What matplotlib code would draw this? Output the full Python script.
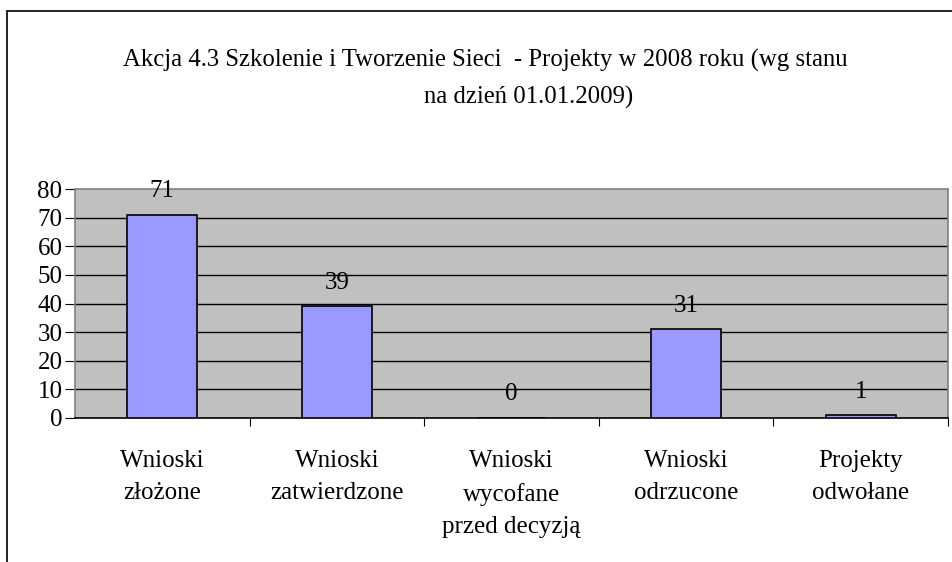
import matplotlib
matplotlib.use("Agg")
import matplotlib.pyplot as plt
from matplotlib.patches import Rectangle

categories = ["Wnioski\nzłożone", "Wnioski\nzatwierdzone", "Wnioski\nwycofane\nprzed decyzją",
              "Wnioski\nodrzucone", "Projekty\nodwołane"]
values = [71, 39, 0, 31, 1]
yticks = [0, 10, 20, 30, 40, 50, 60, 70, 80]
title1 = "Akcja 4.3 Szkolenie i Tworzenie Sieci  - Projekty w 2008 roku (wg stanu"
title2 = "na dzień 01.01.2009)"

plt.rcParams['font.family'] = ['Liberation Serif', 'DejaVu Serif']

W, H = 953, 562
fig = plt.figure(figsize=(W/100, H/100), dpi=100)
fig.patch.set_facecolor('white')

# outer chart frame (partially visible)
fig.patches.append(Rectangle((7/W, -0.1), 1.2, 1.1 - 11/H, transform=fig.transFigure,
                             fill=False, edgecolor='black', linewidth=1.2))

ax = fig.add_axes([75/W, 1-418/H, (948-75)/W, (418-189)/H])
ax.set_facecolor('#C0C0C0')
x = list(range(len(values)))
ax.bar(x, values, width=0.4, color='#9999FF', edgecolor='black', linewidth=1.2, zorder=3)
ax.set_xlim(-0.5, len(values)-0.5)
ax.set_ylim(0, 80)
ax.set_yticks(yticks)
ax.set_yticklabels([str(v) for v in yticks], fontsize=18)
for v in yticks[1:-1]:
    ax.axhline(v, color='black', linewidth=1.0, zorder=1)
ax.set_xticks([i + 0.5 for i in range(len(values)-1)] + [len(values)-0.5])
ax.set_xticklabels([])
ax.set_xticks(x, minor=True)
ax.set_xticklabels(categories, minor=True, fontsize=18, linespacing=1.6)
ax.tick_params(axis='x', which='minor', length=0, pad=23)
ax.tick_params(axis='x', which='major', length=6, direction='out', color='black')
ax.tick_params(axis='y', length=7, direction='out', color='black', pad=2)
for s in ['top', 'right', 'left']:
    ax.spines[s].set_color('#808080')
    ax.spines[s].set_linewidth(1.2)
ax.spines['bottom'].set_color('black')
ax.spines['bottom'].set_linewidth(1.2)

for xi, v in zip(x, values):
    ax.annotate(str(v), (xi, v), xytext=(0, 17), textcoords='offset points',
                ha='center', va='center', fontsize=18, zorder=4)

fig.text(485/W, 1-60/H, title1, ha='center', va='center', fontsize=17.8)
fig.text(529/W, 1-97/H, title2, ha='center', va='center', fontsize=17.8)

fig.savefig('out.png', dpi=100)
